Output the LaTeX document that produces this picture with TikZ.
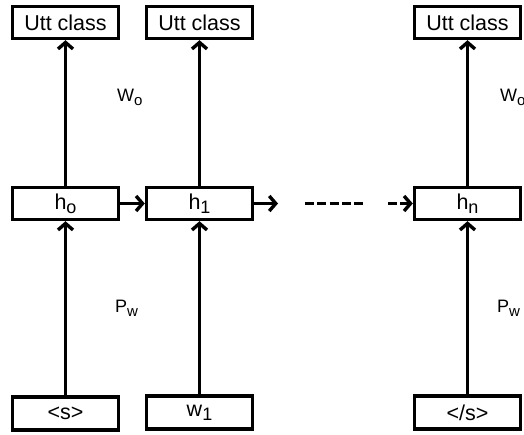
\documentclass[tikz,border=0pt]{standalone}
\usepackage{fontspec}
\setmainfont{Liberation Sans}
\usetikzlibrary{arrows.meta}
\newcommand{\lsub}[1]{\raisebox{-0.4ex}{\fontsize{15}{15}\selectfont #1}}
\newcommand{\bsub}[1]{\raisebox{-0.35ex}{\fontsize{18}{18}\selectfont #1}}
\tikzset{
  box/.style={draw, line width=3.4pt, minimum width=106pt, minimum height=32pt, inner sep=0pt, font=\fontsize{21.5}{21.5}\selectfont},
  conn/.style={line width=3.4pt, -{Straight Barb[length=6.5pt,width=15pt,line width=3.4pt]}},
  lbl/.style={inner sep=0pt, font=\fontsize{18}{18}\selectfont}
}
\begin{document}
\begin{tikzpicture}[x=1pt,y=-1pt]
\useasboundingbox (0,0) rectangle (524,434);
\clip (0,0) rectangle (524,434);
% top row
\node[box] (u1) at (65.5,22.5) {Utt class};
\node[box] (u2) at (199.5,22.5) {Utt class};
\node[box] (u3) at (467.5,22.5) {Utt class};
% hidden row
\node[box] (h0) at (65.5,203.5) {h\bsub{o}};
\node[box] (h1) at (199.5,203.5) {h\bsub{1}};
\node[box] (hn) at (467.5,203.5) {h\bsub{n}};
% input row
\node[box, minimum height=33pt] (x0) at (65.5,413.5) {<s>};
\node[box, minimum height=33pt] (x1) at (199.5,412.5) {w\bsub{1}};
\node[box, minimum height=33pt] (xn) at (467.5,412.5) {</s>};
% labels
\node[lbl, anchor=west] (wo1) at (117,97) {W\lsub{o}};
\node[lbl, anchor=west] (wo3) at (500,97) {W\lsub{o}};
\node[lbl, anchor=west] (pw1) at (115,308) {P\lsub{w}};
\node[lbl, anchor=west] (pw3) at (497,308) {P\lsub{w}};
% vertical connectors
\draw[conn] (x0) -- (h0);
\draw[conn] (x1) -- (h1);
\draw[conn] (xn) -- (hn);
\draw[conn] (h0) -- (u1);
\draw[conn] (h1) -- (u2);
\draw[conn] (hn) -- (u3);
% horizontal connectors
\coordinate (a1) at (278,203.5);
\coordinate (d1) at (305,203.5);
\coordinate (d2) at (363,203.5);
\coordinate (d3) at (388,203.5);
\draw[conn] (h0) -- (h1);
\draw[conn] (h1.east) -- (a1);
\draw[line width=3.4pt, dash pattern=on 9pt off 3.25pt] (d1) -- (d2);
\draw[conn, dash pattern=on 9pt off 3pt] (d3) -- (hn.west);
\end{tikzpicture}
\end{document}
